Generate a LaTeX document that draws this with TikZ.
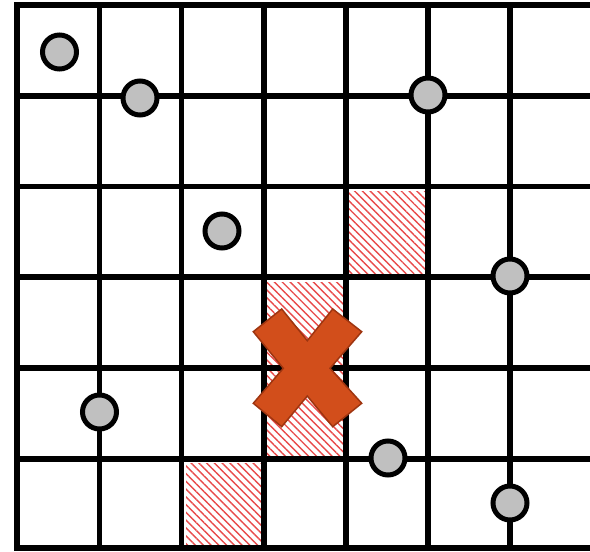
\documentclass[tikz,border=0pt]{standalone}
\usetikzlibrary{patterns.meta}
\definecolor{dotgray}{HTML}{C0C0C0}
\definecolor{xfill}{HTML}{D24E1B}
\definecolor{xedge}{HTML}{9E3510}
\definecolor{hatchred}{HTML}{E84A4A}
\tikzset{
  gridline/.style={line width=5.3pt, line cap=rect},
  dot/.style={circle, draw=black, fill=dotgray, line width=5pt, minimum size=34pt, inner sep=0pt},
  hatch/.style={pattern={Lines[angle=-45,distance=5.5pt,line width=1.4pt]}, pattern color=hatchred},
  crossmark/.style={fill=xfill, draw=xedge, line width=1.5pt, line join=miter}
}
\begin{document}
\begin{tikzpicture}[x=1pt,y=-1pt]
\useasboundingbox (0,0) rectangle (590,552);
% hatched cells
\fill[hatch] (349,191) rectangle (426,275);
\fill[hatch] (267,282) rectangle (343,456);
\fill[hatch] (186,463) rectangle (262,547);
% grid
\foreach \x in {17,99.5,181.5,264,346,428,510}
  \draw[gridline] (\x,5) -- (\x,548);
\foreach \y in {5,96,186.5,277,368,459,548}
  \draw[gridline] (17,\y) -- (592,\y);
% dots
\node[dot] (d1) at (59.5,52) {};
\node[dot] (d2) at (140,98) {};
\node[dot] (d3) at (428,95) {};
\node[dot] (d4) at (222,231) {};
\node[dot] (d5) at (510,276) {};
\node[dot] (d6) at (99.5,412) {};
\node[dot] (d7) at (388,458) {};
\node[dot] (d8) at (510,503) {};
% cross
\draw[crossmark] (281.7,309) -- (307.3,340.7) -- (332.7,309) -- (361.7,331.7)
  -- (330,368.3) -- (361.7,403.3) -- (332.7,426.7) -- (307.3,396)
  -- (281.7,426.7) -- (253.3,403.3) -- (283.3,368.3) -- (253.3,331.7) -- cycle;
\end{tikzpicture}
\end{document}
